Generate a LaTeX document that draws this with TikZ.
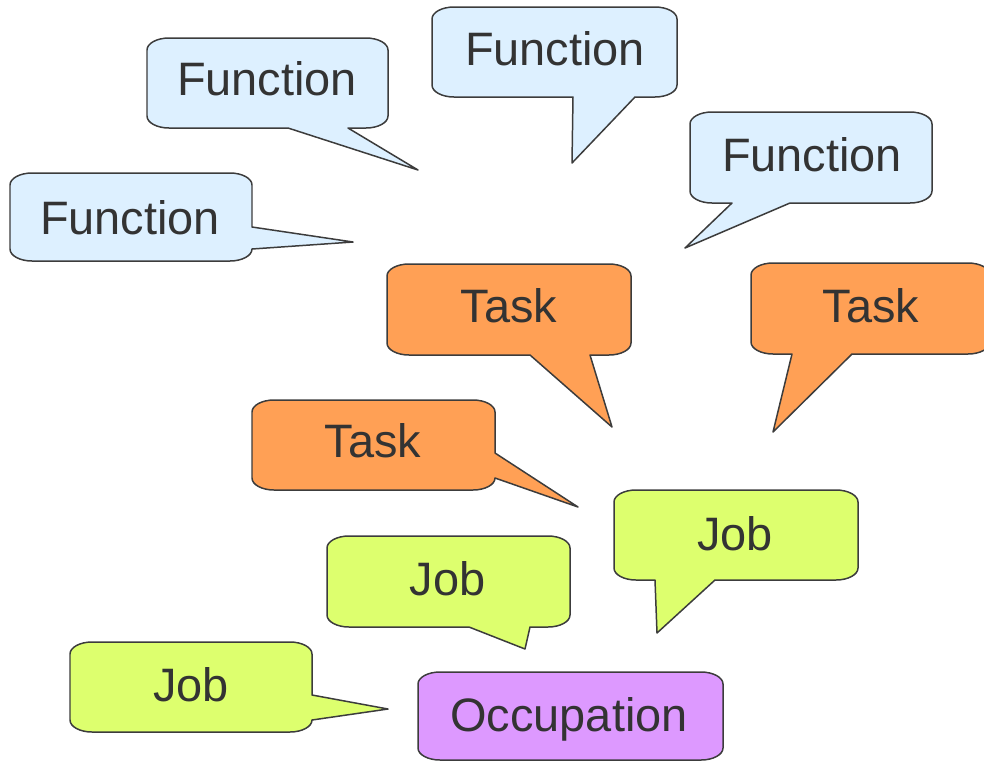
\documentclass[tikz,border=0pt]{standalone}
\usepackage{fontspec}
\setmainfont{Liberation Sans}
\usepackage{tikz}
\usetikzlibrary{positioning}
\definecolor{fncol}{RGB}{221,240,255}
\definecolor{taskcol}{RGB}{255,160,85}
\definecolor{jobcol}{RGB}{221,255,110}
\definecolor{occcol}{RGB}{221,153,255}
\definecolor{edgecol}{RGB}{60,60,60}
\definecolor{txtcol}{RGB}{51,51,51}

\begin{document}
\begin{tikzpicture}[x=0.02cm,y=-0.02cm,line join=round,
        every node/.style={font=\fontsize{26.7}{32}\selectfont,text=txtcol,inner sep=0pt,text height=19.1pt,text depth=0pt}]
        \tikzstyle{bubble}=[draw=edgecol,line width=0.85pt]
        \tikzstyle{fnbox}=[bubble,fill=fncol]
        \tikzstyle{taskbox}=[bubble,fill=taskcol]
        \tikzstyle{jobbox}=[bubble,fill=jobcol]
        \tikzstyle{occbox}=[bubble,fill=occcol]
        \useasboundingbox (0,0) rectangle (984,762);

        % Function
        \draw[fnbox] (348,128) -- (366,128) arc (90:0:22 and 12) -- (388,50) arc (0:-90:22 and 12) -- (169,38) arc (-90:-180:22 and 12) -- (147,116) arc (180:90:22 and 12) -- (288,128) -- (418,170) -- cycle;
        \draw[fnbox] (635,97) -- (655,97) arc (90:0:22 and 12) -- (677,19) arc (0:-90:22 and 12) -- (454,7) arc (-90:-180:22 and 12) -- (432,85) arc (180:90:22 and 12) -- (573,97) -- (572,163) -- cycle;
        \draw[fnbox] (790,203) -- (910,203) arc (90:0:22 and 12) -- (932,124) arc (0:-90:22 and 12) -- (712,112) arc (-90:-180:22 and 12) -- (690,191) arc (180:90:22 and 12) -- (732,203) -- (685,248) -- cycle;
        \draw[fnbox] (252,227) -- (252,185) arc (0:-90:22 and 12) -- (32,173) arc (-90:-180:22 and 12) -- (10,249) arc (180:90:22 and 12) -- (230,261) arc (90:0:22 and 12) -- (353,242) -- cycle;
        \node (fnA) at (267,78.5) {Function};
        \node (fnB) at (555,49) {Function};
        \node (fnC) at (812,155) {Function};
        \node (fnD) at (130,218) {Function};

        % Task
        \draw[taskbox] (590,355) -- (609,355) arc (90:0:22 and 12) -- (631,276) arc (0:-90:22 and 12) -- (409,264) arc (-90:-180:22 and 12) -- (387,343) arc (180:90:22 and 12) -- (530,355) -- (612,427) -- cycle;
        \draw[taskbox] (852,354) -- (968,354) arc (90:0:22 and 12) -- (990,275) arc (0:-90:22 and 12) -- (773,263) arc (-90:-180:22 and 12) -- (751,342) arc (180:90:22 and 12) -- (792,354) -- (773,432) -- cycle;
        \draw[taskbox] (495,453) -- (495,412) arc (0:-90:22 and 12) -- (274,400) arc (-90:-180:22 and 12) -- (252,478) arc (180:90:22 and 12) -- (473,490) arc (90:0:22 and 12) -- (578,507) -- cycle;
        \node (taskA) at (509,305.5) {Task};
        \node (taskB) at (871,306) {Task};
        \node (taskC) at (373,441) {Task};

        % Job
        \draw[jobbox] (715,580) -- (836,580) arc (90:0:22 and 12) -- (858,502) arc (0:-90:22 and 12) -- (636,490) arc (-90:-180:22 and 12) -- (614,568) arc (180:90:22 and 12) -- (655,580) -- (657,633) -- cycle;
        \draw[jobbox] (530,627) -- (548,627) arc (90:0:22 and 12) -- (570,548) arc (0:-90:22 and 12) -- (349,536) arc (-90:-180:22 and 12) -- (327,615) arc (180:90:22 and 12) -- (469,627) -- (525,649) -- cycle;
        \draw[jobbox] (312,695) -- (312,654) arc (0:-90:22 and 12) -- (92,642) arc (-90:-180:22 and 12) -- (70,720) arc (180:90:22 and 12) -- (290,732) arc (90:0:22 and 12) -- (388,709) -- cycle;
        \node (jobA) at (735,534) {Job};
        \node (jobB) at (447.5,578.5) {Job};
        \node (jobC) at (191,685) {Job};

        % Occupation
        \draw[occbox] (723,684) arc (0:-90:22 and 12) -- (440,672) arc (-90:-180:22 and 12) -- (418,748) arc (180:90:22 and 12) -- (701,760) arc (90:0:22 and 12) -- cycle;
        \node (occ) at (569,714.5) {Occupation};
\end{tikzpicture}
\end{document}
